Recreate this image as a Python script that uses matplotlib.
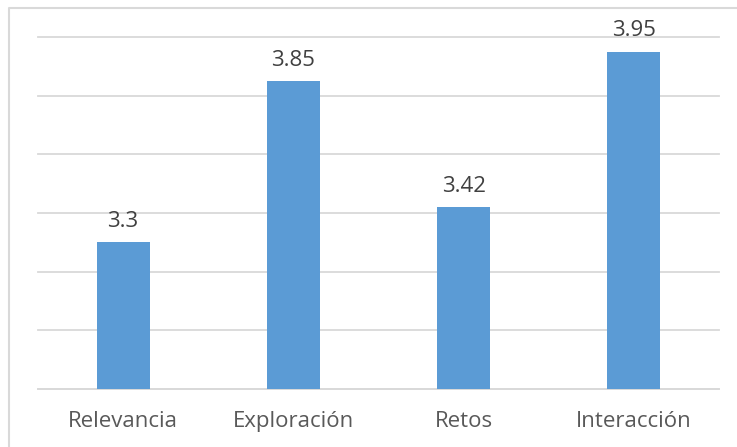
import matplotlib.pyplot as plt
from matplotlib.lines import Line2D

categorias = ['Relevancia', 'Exploración', 'Retos', 'Interacción']
valores = [3.3, 3.85, 3.42, 3.95]

plt.rcParams['font.family'] = ['Open Sans', 'DejaVu Sans']

fig = plt.figure(figsize=(7.37, 4.47), dpi=100)
ax = fig.add_axes([38 / 737, 1 - 389 / 447, (719 - 38) / 737, (389 - 37) / 447])

x = range(len(categorias))
ax.bar(x, valores, width=0.31, color='#5B9BD5', zorder=3)
for i, v in zip(x, valores):
    ax.text(i, v + 0.035, str(v), ha='center', va='bottom',
            fontsize=16, color='#404040')

ax.set_xlim(-0.5, len(categorias) - 0.5)
ax.set_ylim(2.8, 4.0)
ax.set_yticks([2.8, 3.0, 3.2, 3.4, 3.6, 3.8, 4.0])
ax.yaxis.grid(True, color='#d9d9d9', linewidth=1.3, zorder=0)
for gl in ax.get_ygridlines():
    gl.set_clip_on(False)
ax.set_yticklabels([])
ax.tick_params(axis='y', length=0)
ax.set_xticks(list(x))
ax.set_xticklabels(categorias, fontsize=16, color='#595959')
ax.tick_params(axis='x', length=0, pad=16)
for s in ['top', 'right', 'left']:
    ax.spines[s].set_visible(False)
ax.spines['bottom'].set_color('#d9d9d9')
ax.spines['bottom'].set_linewidth(1.3)

# marco del gráfico (solo borde superior e izquierdo)
xl, yt = 8.5 / 737, 1 - 7.5 / 447
fig.add_artist(Line2D([xl, xl, 1.0], [0.0, yt, yt], transform=fig.transFigure,
                      color='#d9d9d9', linewidth=1.5))

fig.savefig('out.png', dpi=100)
